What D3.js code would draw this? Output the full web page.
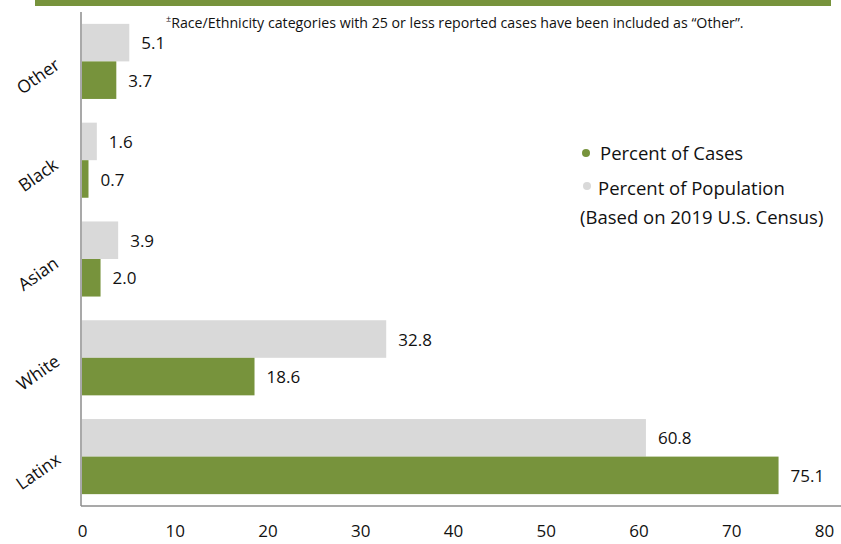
<!DOCTYPE html>
<html>
<head>
<meta charset="utf-8">
<script src="https://cdn.jsdelivr.net/npm/d3@7"></script>
<style>
  body { margin: 0; background: #fff; }
  text { font-family: "Open Sans", "Noto Sans", sans-serif; fill: #111; }
</style>
</head>
<body>
<div id="grafico"></div>
<script>
const ANCHO = 841;
const ALTO = 544;
const VERDE = "#77933c";
const GRIS = "#d9d9d9";

// datos, de arriba hacia abajo
const categorias = ["Other", "Black", "Asian", "White", "Latinx"];
const porcentajeCasos = [3.7, 0.7, 2.0, 18.6, 75.1];
const porcentajePoblacion = [5.1, 1.6, 3.9, 32.8, 60.8];
const marcasX = [0, 10, 20, 30, 40, 50, 60, 70, 80];

const margen = {arriba: 12, derecha: 17, abajo: 38, izquierda: 81};

const $svg = d3.select("#grafico")
    .append("svg")
    .attr("width", ANCHO)
    .attr("height", ALTO);

// franja verde de arriba
$svg.append("rect")
    .attr("x", 35)
    .attr("y", 0)
    .attr("width", 796)
    .attr("height", 6)
    .attr("fill", VERDE);

const x = d3.scaleLinear()
    .domain([0, 80])
    .range([margen.izquierda + 1, ANCHO - margen.derecha]);

const y = d3.scaleBand()
    .domain(categorias)
    .range([margen.arriba, ALTO - margen.abajo])
    .paddingInner(0.24)
    .paddingOuter(0.12);

const ySub = d3.scaleBand()
    .domain(["poblacion", "casos"])
    .range([0, y.bandwidth()]);

const filas = categorias.map((c, i) => ({
    categoria: c,
    valores: [
        {serie: "poblacion", valor: porcentajePoblacion[i], color: GRIS},
        {serie: "casos", valor: porcentajeCasos[i], color: VERDE}
    ]
}));

const grupos = $svg.selectAll("g.fila")
    .data(filas)
    .enter()
    .append("g")
    .attr("class", "fila")
    .attr("transform", d => `translate(0,${y(d.categoria)})`);

grupos.selectAll("rect")
    .data(d => d.valores)
    .enter()
    .append("rect")
    .attr("x", x(0))
    .attr("y", d => ySub(d.serie))
    .attr("width", d => x(d.valor) - x(0))
    .attr("height", ySub.bandwidth())
    .attr("fill", d => d.color);

grupos.selectAll("text.valor")
    .data(d => d.valores)
    .enter()
    .append("text")
    .attr("class", "valor")
    .attr("x", d => x(d.valor) + 12)
    .attr("y", d => ySub(d.serie) + ySub.bandwidth() / 2 + 2)
    .attr("dominant-baseline", "middle")
    .attr("font-size", 17)
    .text(d => d.valor.toFixed(1));

// etiquetas de categoria giradas
$svg.selectAll("text.categoria")
    .data(categorias)
    .enter()
    .append("text")
    .attr("class", "categoria")
    .attr("text-anchor", "middle")
    .attr("dominant-baseline", "middle")
    .attr("font-size", 17.5)
    .attr("transform", d => `translate(39,${y(d) + y.bandwidth() / 2 + 16}) rotate(-35)`)
    .text(d => d);

// ejes
const ejeX = $svg.append("g")
    .attr("transform", `translate(0,${ALTO - margen.abajo})`)
    .call(d3.axisBottom(x).tickValues(marcasX).tickSize(0).tickPadding(19));
ejeX.select(".domain")
    .attr("stroke", "#8c8c8c")
    .attr("stroke-width", 1.5)
    .attr("d", `M${margen.izquierda},0H${ANCHO}`);
ejeX.selectAll("text")
    .attr("font-size", 17)
    .attr("font-family", "\"Open Sans\", sans-serif")
    .attr("fill", "#111");

$svg.append("line")
    .attr("x1", margen.izquierda)
    .attr("x2", margen.izquierda)
    .attr("y1", margen.arriba)
    .attr("y2", ALTO - margen.abajo)
    .attr("stroke", "#8c8c8c")
    .attr("stroke-width", 1.5);

// nota al pie
const nota = $svg.append("text")
    .attr("x", 166)
    .attr("y", 28)
    .attr("font-size", 14.2);
nota.append("tspan")
    .attr("font-size", 9)
    .attr("dy", -6)
    .text("±");
nota.append("tspan")
    .attr("dy", 6)
    .text("Race/Ethnicity categories with 25 or less reported cases have been included as “Other”.");

// leyenda
const leyenda = [
    {texto: "Percent of Cases", color: VERDE, cx: 586, cy: 153, tx: 600, ty: 155},
    {texto: "Percent of Population", color: GRIS, cx: 587, cy: 186, tx: 598, ty: 190}
];
$svg.selectAll("circle.leyenda")
    .data(leyenda)
    .enter()
    .append("circle")
    .attr("cx", d => d.cx)
    .attr("cy", d => d.cy)
    .attr("r", 4)
    .attr("fill", d => d.color);
$svg.selectAll("text.leyenda")
    .data(leyenda)
    .enter()
    .append("text")
    .attr("x", d => d.tx)
    .attr("y", d => d.ty)
    .attr("dominant-baseline", "middle")
    .attr("font-size", 18.5)
    .text(d => d.texto);
$svg.append("text")
    .attr("x", 580)
    .attr("y", 219)
    .attr("dominant-baseline", "middle")
    .attr("font-size", 18.5)
    .text("(Based on 2019 U.S. Census)");
</script>
</body>
</html>
